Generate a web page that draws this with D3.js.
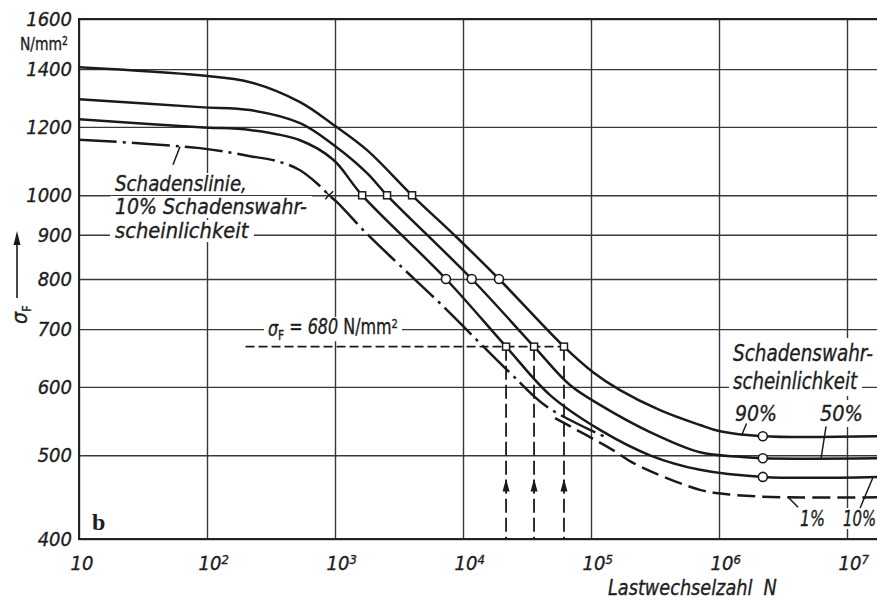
<!DOCTYPE html>
<html>
<head>
<meta charset="utf-8">
<script src="https://cdn.jsdelivr.net/npm/d3@7"></script>
<style>
body { margin: 0; background: #fff; }
svg { display: block; }
.lbl { font-family: "Liberation Sans Narrow", "DejaVu Sans Condensed", "Arial Narrow", sans-serif; font-style: italic; fill: #1e1e1e; stroke: #1e1e1e; stroke-width: 0.35px; }
.up { font-style: normal; }
</style>
</head>
<body>
<div id="chart"></div>
<script>
// Woehler lines (sigma_F over load cycles N)
var yTicks = [400, 500, 600, 700, 800, 900, 1000, 1200, 1400, 1600];
var xTicks = [1e1, 1e2, 1e3, 1e4, 1e5, 1e6, 1e7];
var xEnd = 1.72e7;

// [N, sigma_F]
var curve90 = [[10, 1407], [88, 1377], [217, 1352], [533, 1282], [964, 1208], [1780, 1128], [4000, 1000], [9000, 893], [19100, 800], [61500, 668], [103700, 624], [168600, 595], [346000, 564], [711000, 542], [1018000, 533], [2200000, 526], [17200000, 526]];
var curve50 = [[10, 1292], [88, 1265], [217, 1255], [533, 1212], [964, 1145], [1780, 1061], [2550, 1000], [11700, 800], [35900, 668], [68500, 603], [117500, 572], [289000, 532], [711000, 504], [1459000, 498], [2200000, 496], [17200000, 496]];
var curve10 = [[10, 1225], [88, 1199], [217, 1190], [533, 1158], [964, 1100], [1630, 1000], [7360, 800], [21700, 668], [47900, 587], [117500, 535], [289000, 500], [711000, 481], [2200000, 472], [17200000, 472]];
var curveSchaden = [[10, 1160], [88, 1134], [217, 1110], [372, 1093], [533, 1069], [736, 1030], [900, 1000], [1037, 982], [1780, 902], [3200, 830], [6600, 750], [23300, 623], [45300, 569], [133400, 524]];
var curve1 = [[52400, 552], [148500, 507], [212800, 490], [711000, 456], [1285000, 450], [3400000, 447], [17200000, 447]];

// test points
var squares1000 = [1630, 2550, 4000];
var crossSchaden = [900, 1000];
var circles800 = [7360, 11700, 19100];
var squares680 = [21700, 35900, 61500];
var sigma680 = 668; // the 680 line sits at about 668 on the printed grid
var dashStartN = 200;
var arrowSigma = 470;
var circlesRightN = 2200000;
var circlesRight = [526, 496, 472];

var svg = d3.select("#chart")
    .append("svg")
    .attr("width", 877)
    .attr("height", 600);

svg.append("rect")
    .attr("width", 877)
    .attr("height", 600)
    .attr("fill", "#fff");

var x = d3.scaleLog().domain([10, 1e7]).range([79, 847]);
var y = d3.scaleLog().domain([400, 1600]).range([539, 19]);

var plotLeft = x(10), plotRight = x(xEnd), plotTop = y(1600), plotBottom = y(400);

svg.append("clipPath")
    .attr("id", "plot")
    .append("rect")
    .attr("x", plotLeft)
    .attr("y", plotTop - 2)
    .attr("width", plotRight - plotLeft)
    .attr("height", plotBottom - plotTop + 4);

//Grid lines
var gridY = svg.append("g")
    .attr("transform", "translate(" + plotLeft + ",0)")
    .call(d3.axisLeft(y).tickValues(yTicks).tickSize(-(plotRight - plotLeft)).tickFormat(""));
gridY.select(".domain").remove();
gridY.selectAll("line").attr("stroke", "#383838").attr("stroke-width", 1.4);

var gridX = svg.append("g")
    .attr("transform", "translate(0," + plotBottom + ")")
    .call(d3.axisBottom(x).tickValues(xTicks).tickSize(-(plotBottom - plotTop)).tickFormat(""));
gridX.select(".domain").remove();
gridX.selectAll("line").attr("stroke", "#383838").attr("stroke-width", 1.4);

//Frame (right side is cut off in the scan)
svg.append("path")
    .attr("d", "M" + plotRight + "," + plotTop + "H" + plotLeft + "V" + plotBottom + "H" + plotRight)
    .attr("fill", "none")
    .attr("stroke", "#222")
    .attr("stroke-width", 2);

//Tick labels
var axisY = svg.append("g")
    .attr("transform", "translate(" + plotLeft + ",0)")
    .call(d3.axisLeft(y).tickValues(yTicks).tickSize(0).tickPadding(7).tickFormat(d3.format("d")));
axisY.select(".domain").remove();
axisY.selectAll("text")
    .attr("class", "lbl")
    .attr("font-size", "20px");

var axisX = svg.append("g")
    .attr("transform", "translate(0," + plotBottom + ")")
    .call(d3.axisBottom(x).tickValues(xTicks).tickSize(0).tickPadding(17).tickFormat(""));
axisX.select(".domain").remove();
axisX.selectAll("text").each(function (d) {
    var t = d3.select(this)
        .attr("class", "lbl")
        .attr("font-size", "20px")
        .attr("text-anchor", "start")
        .attr("x", -9);
    t.append("tspan").text("10");
    var e = Math.round(Math.log10(d));
    if (e > 1) {
        t.append("tspan").attr("dy", "-0.45em").attr("font-size", "13px").text(e);
    }
});

//Text with white paper behind it (breaks the grid like in the print),
//squeezed to the width of the narrow lettering
function boxedText(px, py, size, parts, pad, width, upright) {
    var g = svg.append("g");
    var bg = g.append("rect").attr("fill", "#fff");
    var t = g.append("text")
        .attr("class", upright ? "lbl up" : "lbl")
        .attr("x", 0)
        .attr("y", 0)
        .attr("font-size", size + "px");
    parts.forEach(function (p) {
        var s = t.append("tspan").text(p.text);
        if (p.dy) s.attr("dy", p.dy);
        if (p.size) s.attr("font-size", p.size + "px");
        if (p.up) s.attr("class", "up");
    });
    var b = t.node().getBBox();
    var sx = width ? width / b.width : 1;
    g.attr("transform", "translate(" + px + "," + py + ") scale(" + sx + ",1)");
    bg.attr("x", b.x - pad[0] / sx).attr("y", b.y - pad[1])
        .attr("width", b.width + 2 * pad[0] / sx).attr("height", b.height + 2 * pad[1]);
    if (pad[0] < 0) bg.remove();
    return g;
}

boxedText(115, 191, 21, [{ text: "Schadenslinie," }], [5, -1], 132);
boxedText(115, 214, 21, [{ text: "10% Schadenswahr-" }], [5, -1], 192);
boxedText(115, 238, 21, [{ text: "scheinlichkeit" }], [5, -1], 134);

boxedText(733, 361, 23, [{ text: "Schadenswahr-" }], [4, 2], 140);
boxedText(733, 389, 23, [{ text: "scheinlichkeit" }], [4, 2], 125);
boxedText(735, 421, 22, [{ text: "90%" }], [3, 1], 42);
boxedText(820, 421, 22, [{ text: "50%" }], [3, 1], 43);
boxedText(800, 526, 22, [{ text: "1%" }], [3, -2], 25);
boxedText(843, 526, 22, [{ text: "10%" }], [3, -2], 33);

boxedText(268, 336, 21, [
    { text: "σ" },
    { text: "F", dy: "0.3em", size: 14, up: true },
    { text: " = 680 ", dy: "-0.3em" },
    { text: "N/mm", up: true },
    { text: "2", dy: "-0.45em", size: 13, up: true }
], [4, -2], 130);

//unit under the top tick
boxedText(20, 50, 18, [
    { text: "N/mm" },
    { text: "2", dy: "-0.45em", size: 12 }
], [-1, 0], 48, true);

//Curves
var line = d3.line()
    .x(function (d) { return x(d[0]); })
    .y(function (d) { return y(d[1]); })
    .curve(d3.curveCatmullRom.alpha(0.5));

var plot = svg.append("g").attr("clip-path", "url(#plot)");

[curve90, curve50, curve10].forEach(function (c) {
    plot.append("path")
        .attr("d", line(c))
        .attr("fill", "none")
        .attr("stroke", "#1a1a1a")
        .attr("stroke-width", 2.5);
});

plot.append("path")
    .attr("d", line(curveSchaden))
    .attr("fill", "none")
    .attr("stroke", "#1a1a1a")
    .attr("stroke-width", 2.5)
    .attr("stroke-dasharray", "38,6,3,6");

plot.append("path")
    .attr("d", line(curve1))
    .attr("fill", "none")
    .attr("stroke", "#1a1a1a")
    .attr("stroke-width", 2.5)
    .attr("stroke-dasharray", "18,7");

//sigma_F = 680 reading lines
plot.append("line")
    .attr("x1", x(dashStartN)).attr("x2", x(squares680[2]))
    .attr("y1", y(sigma680)).attr("y2", y(sigma680))
    .attr("stroke", "#1a1a1a")
    .attr("stroke-width", 1.8)
    .attr("stroke-dasharray", "9,4");

squares680.forEach(function (n) {
    plot.append("line")
        .attr("x1", x(n)).attr("x2", x(n))
        .attr("y1", y(sigma680)).attr("y2", y(400))
        .attr("stroke", "#1a1a1a")
        .attr("stroke-width", 1.8)
        .attr("stroke-dasharray", "14,5");
    plot.append("path")
        .attr("d", "M0,0L-3.5,13L3.5,13Z")
        .attr("transform", "translate(" + x(n) + "," + y(arrowSigma) + ")")
        .attr("fill", "#1a1a1a");
});

//Markers
function square(n, s) {
    plot.append("rect")
        .attr("x", x(n) - 3.5).attr("y", y(s) - 3.5)
        .attr("width", 7).attr("height", 7)
        .attr("fill", "#fff")
        .attr("stroke", "#1a1a1a")
        .attr("stroke-width", 1.5);
}
function circle(n, s) {
    plot.append("circle")
        .attr("cx", x(n)).attr("cy", y(s)).attr("r", 4.5)
        .attr("fill", "#fff")
        .attr("stroke", "#1a1a1a")
        .attr("stroke-width", 1.6);
}

squares1000.forEach(function (n) { square(n, 1000); });
squares680.forEach(function (n) { square(n, sigma680); });
circles800.forEach(function (n) { circle(n, 800); });
circlesRight.forEach(function (s) { circle(circlesRightN, s); });

plot.append("path")
    .attr("d", "M-4,-4L4,4M-4,4L4,-4")
    .attr("transform", "translate(" + x(crossSchaden[0]) + "," + y(crossSchaden[1]) + ")")
    .attr("stroke", "#1a1a1a")
    .attr("stroke-width", 1.5);

//Leader lines from labels to curves: [N, sigma, dx, dy]
var leaders = [
    [61.5, 1138, -7, 18],
    [1500000, 527, 5, -12],
    [6270000, 496, 5, -32],
    [16000000, 472, -13, 31],
    [3470000, 447, 10, 10]
];
leaders.forEach(function (l) {
    svg.append("line")
        .attr("x1", x(l[0])).attr("y1", y(l[1]))
        .attr("x2", x(l[0]) + l[2]).attr("y2", y(l[1]) + l[3])
        .attr("stroke", "#1a1a1a")
        .attr("stroke-width", 1.5);
});

//Axis titles
var title = svg.append("text")
    .attr("class", "lbl")
    .attr("font-size", "22px")
    .attr("xml:space", "preserve")
    .text("Lastwechselzahl  N");
var tw = title.node().getBBox().width;
title.attr("transform", "translate(608,595) scale(" + (169 / tw) + ",1)");

var sigLbl = svg.append("text")
    .attr("class", "lbl")
    .attr("transform", "translate(27,324) rotate(-90)")
    .attr("font-size", "21px");
sigLbl.append("tspan").text("σ");
sigLbl.append("tspan").attr("class", "up").attr("dy", "0.3em").attr("font-size", "13px").text("F");

svg.append("line")
    .attr("x1", 17).attr("x2", 17)
    .attr("y1", 298).attr("y2", 240)
    .attr("stroke", "#1a1a1a")
    .attr("stroke-width", 1.6);
svg.append("path")
    .attr("d", "M17,231L13.5,245L20.5,245Z")
    .attr("fill", "#1a1a1a");

svg.append("text")
    .attr("x", 92)
    .attr("y", 530)
    .attr("font-family", "'Liberation Serif', 'DejaVu Serif', serif")
    .attr("font-weight", "bold")
    .attr("font-size", "24px")
    .attr("fill", "#1e1e1e")
    .text("b");
</script>
</body>
</html>
